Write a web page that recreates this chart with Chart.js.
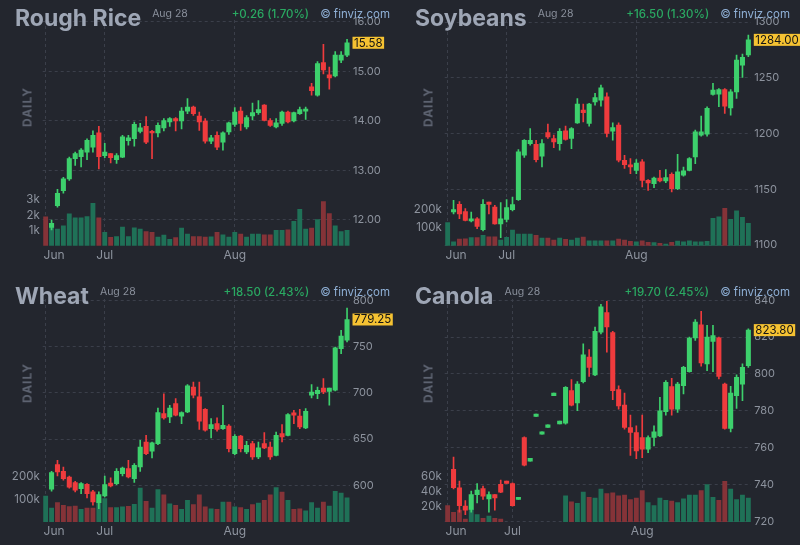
<!DOCTYPE html>
<html>
<head>
<meta charset="utf-8">
<title>Grain futures - daily</title>
<script src="https://cdn.jsdelivr.net/npm/chart.js@4.4.1/dist/chart.umd.min.js"></script>
<style>
  html, body { margin: 0; padding: 0; background: #23262e; }
  #board { position: relative; width: 800px; height: 545px; overflow: hidden; background: #23262e; font-family: Inter, "Noto Sans", sans-serif; }
  .panel { position: absolute; width: 400px; overflow: hidden; }
  .panel canvas { position: absolute; left: 0; top: 0; }
  .head { position: absolute; left: 15px; display: flex; align-items: flex-start; white-space: nowrap; }
  .name { font-size: 23px; font-weight: 700; line-height: 24px; color: #9ea6b5; }
  .date { font-size: 10.5px; line-height: 12px; margin: 2px 0 0 11px; color: #8a909c; }
  .right { position: absolute; right: 10px; display: flex; gap: 11px; font-size: 11.5px; line-height: 14px; white-space: nowrap; }
  .chg { color: #2aa962; font-weight: 500; }
  .src { color: #8fb0d6; }
  .daily { position: absolute; font-size: 12px; font-weight: 700; letter-spacing: 1px; color: #5c6270; transform: translate(-50%, -50%) rotate(-90deg); }
</style>
</head>
<body>
<div id="board"></div>
<script>
"use strict";

// ---- data (index 0 only has volume, no candle) ----
const sessions = Array.from({ length: 52 }, (_, i) => i + 1);
const monthNames = ["Jun", "Jul", "Aug"];
const dateLabel = "Aug 28";

// Rough Rice
const riceOpen  = [null, 11.85, 12.29, 12.59, 12.83, 13.24, 13.28, 13.37, 13.47, 13.76, 13.30, 13.34, 13.22, 13.27, 13.60, 13.64, 13.79, 13.89, 13.79, 13.76, 13.86, 13.98, 14.05, 14.00, 14.20, 14.28, 14.10, 14.00, 13.59, 13.71, 13.57, 13.78, 13.93, 14.20, 13.88, 14.10, 14.17, 14.32, 14.01, 13.88, 13.95, 14.18, 14.00, 14.15, 14.20, 14.69, 14.52, 15.18, 14.93, 14.91, 15.23, 15.33];
const riceHigh  = [null, 12.00, 12.62, 12.86, 13.27, 13.37, 13.44, 13.64, 13.80, 13.89, 13.55, 13.34, 13.34, 13.71, 13.71, 13.98, 13.95, 14.09, 13.81, 13.96, 14.05, 14.07, 14.07, 14.27, 14.45, 14.30, 14.18, 14.05, 13.71, 13.78, 13.78, 13.98, 14.27, 14.28, 14.11, 14.36, 14.41, 14.33, 14.05, 14.05, 14.20, 14.20, 14.18, 14.28, 14.28, 14.76, 15.20, 15.55, 15.09, 15.40, 15.40, 15.65];
const riceLow   = [null, 11.80, 12.26, 12.54, 12.80, 13.10, 13.07, 13.22, 13.37, 13.03, 13.26, 13.15, 13.14, 13.26, 13.51, 13.49, 13.76, 13.54, 13.24, 13.68, 13.80, 13.89, 13.80, 13.84, 14.15, 14.11, 13.81, 13.55, 13.54, 13.42, 13.41, 13.73, 13.89, 13.81, 13.84, 14.02, 14.13, 14.00, 13.89, 13.86, 13.91, 13.96, 13.98, 14.13, 14.03, 14.52, 14.50, 14.95, 14.64, 14.89, 15.18, 15.30];
const riceClose = [null, 11.93, 12.54, 12.83, 13.24, 13.34, 13.41, 13.61, 13.71, 13.28, 13.37, 13.26, 13.30, 13.68, 13.66, 13.93, 13.86, 13.57, 13.76, 13.91, 14.01, 14.05, 14.00, 14.20, 14.28, 14.15, 13.98, 13.59, 13.66, 13.47, 13.76, 13.96, 14.18, 13.95, 14.07, 14.17, 14.23, 14.01, 13.91, 13.96, 14.18, 13.98, 14.17, 14.23, 14.24, 14.61, 15.16, 15.03, 14.87, 15.33, 15.33, 15.58];
const riceVolume = [1.89, 1.27, 1.09, 1.31, 2.09, 1.82, 1.82, 1.91, 2.78, 1.82, 0.87, 0.55, 0.6, 1.22, 0.6, 1.18, 1.09, 0.93, 0.87, 0.56, 0.69, 0.42, 0.53, 1.16, 0.76, 0.6, 0.6, 0.56, 0.58, 0.87, 0.71, 0.56, 0.87, 0.76, 0.56, 0.76, 0.76, 0.71, 0.71, 1.0, 1.0, 1.04, 1.6, 2.38, 1.09, 1.16, 1.71, 2.89, 2.11, 1.31, 0.93, 1.0];

// Soybeans
const soyOpen  = [null, 1129.6, 1136.5, 1130, 1121.6, 1123.6, 1113.8, 1138.6, 1134, 1119, 1123, 1131.7, 1140.7, 1180.5, 1191, 1190.4, 1179.6, 1200.9, 1195.5, 1191, 1202.4, 1195.5, 1209.6, 1221, 1209, 1228.4, 1230, 1233, 1202, 1207.5, 1176, 1172, 1167, 1174.5, 1158, 1155, 1160, 1157.5, 1163.5, 1150.6, 1162.6, 1167, 1179, 1198.5, 1199.4, 1235, 1235.3, 1239.5, 1223, 1237.4, 1261.4, 1270.4];
const soyHigh  = [null, 1140, 1139, 1132.6, 1129.6, 1124.6, 1140.7, 1138.6, 1135.6, 1138, 1140.7, 1143, 1185.6, 1194.6, 1204.5, 1194, 1194.6, 1208.4, 1198.5, 1204.5, 1206.6, 1205.4, 1231.4, 1226.3, 1227, 1236, 1243.4, 1236.5, 1209.6, 1209.6, 1180.5, 1177.5, 1176.6, 1176.6, 1158.6, 1161, 1167, 1167.7, 1164.7, 1181.4, 1170, 1178.5, 1203, 1215.6, 1224, 1245, 1240.4, 1240.4, 1239.5, 1270.4, 1271.3, 1288.3];
const soyLow   = [null, 1128, 1123.6, 1121.6, 1120.7, 1114.7, 1112.6, 1128, 1118.6, 1106.6, 1120.7, 1130.5, 1140, 1178.5, 1189.5, 1174.6, 1170, 1195.5, 1187.4, 1185, 1194, 1186.5, 1209, 1210.5, 1206.6, 1225.4, 1224.6, 1197, 1194, 1174.5, 1168.6, 1164, 1164, 1152, 1149, 1151.5, 1156.5, 1156, 1147.6, 1149.7, 1161.7, 1166.5, 1173, 1197.6, 1197.6, 1234.5, 1224, 1218, 1216.5, 1231.4, 1250.3, 1268.9];
const soyClose = [null, 1131.7, 1128, 1122, 1123.6, 1116.8, 1136.5, 1136.5, 1119, 1123.6, 1133.5, 1136.2, 1183.5, 1194, 1194, 1176.6, 1191, 1197, 1192.5, 1202, 1194.6, 1204.5, 1226.3, 1218.6, 1226.3, 1232.3, 1241, 1200, 1205.4, 1176, 1172, 1170, 1173.6, 1158, 1155.6, 1160, 1157.5, 1160.5, 1150.6, 1165.6, 1166.5, 1177.5, 1201.5, 1201.5, 1222.5, 1239, 1239.5, 1224.6, 1237.4, 1265.9, 1268.3, 1284];
const soyVolume = [129, 22, 37, 39, 45, 45, 58, 50, 50, 32, 47, 88, 65, 65, 65, 58, 43, 43, 32, 43, 36, 32, 43, 48, 28, 28, 28, 28, 28, 37, 32, 24, 22, 28, 19, 17, 13, 9, 19, 26, 22, 28, 22, 22, 24, 153, 162, 209, 148, 196, 159, 125];

// Wheat
const wheatOpen  = [null, 595.7, 622.3, 615, 609, 603, 596.4, 601, 593, 581.3, 588.5, 602.5, 601.8, 612.6, 618, 607.2, 619.8, 646.8, 636.8, 645, 677.5, 673.9, 688.3, 674.6, 679.3, 706.3, 695.5, 682.2, 661.3, 666.7, 661.3, 664.1, 634.2, 653.3, 636, 645, 630.6, 645, 641.4, 632.4, 655.9, 654, 678.2, 674.9, 662, 697.3, 699, 705.2, 701.6, 702.7, 747.7, 756.8];
const wheatHigh  = [null, 615, 627, 619.8, 610, 604.3, 603, 601.8, 594.6, 592.8, 610, 608, 618, 619.8, 627, 623.4, 648.6, 654, 646.8, 683.6, 699, 686.5, 693.7, 679.3, 708.8, 711.7, 711.7, 683, 672.1, 672.8, 686.5, 665.6, 654.8, 654, 647.6, 647.6, 646.8, 657, 646.8, 657.6, 665.6, 677.5, 681, 682.2, 682.9, 708.8, 706.3, 715.3, 705.2, 749.5, 767.6, 791.7];
const wheatLow   = [null, 593.5, 610, 605.4, 597, 592.8, 591, 586.3, 578.4, 574.8, 587.4, 598.2, 600.7, 610, 608, 603, 615, 633, 629.5, 644, 671.4, 667.7, 675, 666.7, 678.6, 694.4, 660.5, 658.4, 651.2, 658.4, 660.5, 636, 633.2, 636, 634.2, 628, 628.8, 639.6, 628, 631.7, 646.8, 653.3, 666.7, 661.3, 661.3, 694.4, 693.7, 699, 686.5, 702, 742.3, 755];
const wheatClose = [null, 613.7, 614.4, 607.2, 598, 594.6, 601.8, 591, 582, 590, 600.7, 599.3, 615, 618.7, 609, 621.6, 641.4, 634.2, 645.8, 678.6, 672.8, 683.6, 675.7, 678.6, 707.4, 697.3, 669.2, 659.5, 665.6, 660.5, 664.9, 639.6, 653, 639.6, 643.2, 630.6, 640.4, 640.4, 630.6, 654, 652.3, 676.4, 675.7, 663, 680, 700.9, 702.7, 700.9, 705.2, 748.5, 761.4, 779.25];
const wheatVolume = [115, 62, 86, 74, 68, 71, 56, 62, 62, 104, 104, 64, 64, 67, 70, 79, 151, 92, 62, 144, 121, 81, 74, 56, 96, 77, 121, 67, 59, 56, 89, 89, 67, 64, 56, 77, 84, 96, 121, 153, 133, 96, 56, 59, 50, 86, 62, 89, 71, 136, 129, 107];

// Canola
const canolaOpen  = [null, 748.2, 738.2, 728.2, 726.4, 734.5, 737.8, 732.2, 734.5, 740, 741.8, 740.5, 731.8, 765.5, 752.7, 776.9, 767.3, 770.9, 788.2, 772.9, 773.3, 790.9, 784.2, 795.8, 809.1, 799.5, 822.7, 833.3, 822.4, 791.5, 783.1, 770.9, 768.2, 765.5, 759.1, 765.5, 766.4, 779.5, 793.1, 780.9, 793.6, 801.3, 819.5, 826.7, 805.5, 817.6, 819.6, 794.5, 770.4, 788.2, 794.5, 804.5];
const canolaHigh  = [null, 754.9, 741.8, 731.3, 736.4, 740.4, 739.1, 736, 734.5, 742.4, 741.8, 740.9, 733, 765.8, 754.2, 778.2, 768.5, 772.4, 789.6, 774.4, 793.1, 796.9, 795.8, 816.4, 813.3, 825.5, 837.8, 839.5, 823.1, 793.6, 789.6, 777.6, 771.8, 777.6, 766.4, 771.8, 787.3, 796.4, 797.6, 795.5, 804.2, 820, 829.5, 834, 826.4, 826.4, 820, 795.1, 793.3, 799.5, 805.5, 824.5];
const canolaLow   = [null, 737.6, 724.9, 723.6, 724.9, 730, 731.8, 724.9, 726, 735.5, 740.5, 728.2, 731.8, 750, 752.7, 776.9, 767.3, 770.9, 788.2, 772.9, 772.7, 782.7, 780, 795.1, 798.7, 799.1, 821.8, 811.8, 786, 780.9, 770, 755.8, 754, 754.5, 757.3, 760.9, 766, 777.6, 777.6, 779.1, 789.1, 800.9, 818.2, 804.2, 801.8, 801.3, 797.3, 770, 768.5, 781.3, 785.5, 803.6];
const canolaClose = [null, 738.2, 728.5, 726, 734.5, 736.9, 733.6, 734.5, 732.7, 735.8, 740.5, 728.5, 733, 750.4, 754.2, 778.2, 768.5, 772.4, 789.6, 774.4, 792.7, 783.1, 794.5, 810.4, 803.6, 823.1, 836.4, 825.5, 790.9, 782.7, 770.9, 768.2, 758.2, 759.1, 765.5, 768.5, 780, 795.5, 780.9, 794.5, 803.6, 819.5, 828.2, 806, 820, 820.9, 798.7, 770.4, 789.6, 798.2, 803.6, 823.8];
const canolaVolume = [22, 13, 16, 4, 17, 10, 5, 8, 5, 4, null, null, null, null, null, null, null, null, null, null, 35, 27, 25, 40, 33, 32, 44, 38, 39, 35, 36, 30, 32, 42, 26, 22, 32, 29, 28, 26, 31, 36, 36, 42, 50, 33, 29, 54, 44, 30, 36, 32];

// tick labels
const riceTicks = [12, 13, 14, 15, 16];
const soyTicks = [1100, 1150, 1200, 1250, 1300];
const wheatTicks = [600, 650, 700, 750, 800];
const canolaTicks = [720, 740, 760, 780, 800, 820, 840];
const riceVolTicks = [1, 2, 3];
const soyVolTicks = [100, 200];
const wheatVolTicks = [100, 200];
const canolaVolTicks = [20, 40, 60];

// ---- look ----
const candleUp = "#3dd06c", candleDown = "#ef3b3d";
const volUp = "#1f7157", volDown = "#853338";
const gridColor = "#3b3f4a", tickColor = "#8d939e";

const panels = [
  { name: "Rough Rice", change: "+0.26 (1.70%)", open: riceOpen, high: riceHigh, low: riceLow, close: riceClose, volume: riceVolume, firstUp: false,
    priceTicks: riceTicks, volTicks: riceVolTicks, decimals: 2, months: [0, 10, 32],
    x: 0, y: 0, h: 272, area: { left: 42.7, right: 350, top: 20, bottom: 245.7 }, min: 11.48, max: 16.04, vMax: 14.8, head: 6, daily: [27, 107] },
  { name: "Soybeans", change: "+16.50 (1.30%)", open: soyOpen, high: soyHigh, low: soyLow, close: soyClose, volume: soyVolume, firstUp: true,
    priceTicks: soyTicks, volTicks: soyVolTicks, decimals: 0, months: [0, 10, 32],
    x: 400, y: 0, h: 272, area: { left: 44.7, right: 351.3, top: 20, bottom: 245.7 }, min: 1099.4, max: 1301.8, vMax: 1266, head: 6, daily: [28, 107] },
  { name: "Wheat", change: "+18.50 (2.43%)", open: wheatOpen, high: wheatHigh, low: wheatLow, close: wheatClose, volume: wheatVolume, firstUp: true,
    priceTicks: wheatTicks, volTicks: wheatVolTicks, decimals: 0, months: [0, 10, 32],
    x: 0, y: 272, h: 273, area: { left: 42.7, right: 350, top: 27, bottom: 250 }, min: 560.3, max: 801.4, vMax: 991, head: 12, daily: [27, 111] },
  { name: "Canola", change: "+19.70 (2.45%)", open: canolaOpen, high: canolaHigh, low: canolaLow, close: canolaClose, volume: canolaVolume, firstUp: false,
    priceTicks: canolaTicks, volTicks: canolaVolTicks, decimals: 0, months: [0, 11, 33],
    x: 400, y: 272, h: 273, area: { left: 44.7, right: 351.3, top: 27, bottom: 250 }, min: 719.6, max: 840.7, vMax: 297, head: 12, daily: [28, 111] }
];

// yellow box with the last close on the price axis
const lastPriceTag = {
  id: "lastPriceTag",
  afterDraw(chart, args, opts) {
    const ctx = chart.ctx;
    const y = chart.scales.y.getPixelForValue(opts.value);
    const x = chart.chartArea.right + 2.5;
    ctx.save();
    ctx.font = "11.5px Inter";
    const w = ctx.measureText(opts.text).width + 3;
    ctx.fillStyle = "#f5c232";
    ctx.fillRect(x, y - 6, w, 12);
    ctx.fillStyle = "#141414";
    ctx.textBaseline = "middle";
    ctx.fillText(opts.text, x + 1.5, y + 0.5);
    ctx.restore();
  }
};

function buildConfig(p) {
  const up = p.open.map((o, i) => o == null ? p.firstUp : p.close[i] >= o);
  const lastClose = p.close[p.close.length - 1];
  return {
    type: "bar",
    data: {
      labels: sessions,
      datasets: [
        {
          label: "body",
          data: p.open.map((o, i) => o == null ? null : [o, p.close[i]]),
          backgroundColor: up.map(u => u ? candleUp : candleDown),
          barThickness: 4.4, minBarLength: 1.2, grouped: false, yAxisID: "y", order: 0
        },
        {
          label: "wick",
          data: p.low.map((l, i) => l == null ? null : [l, p.high[i]]),
          backgroundColor: up.map(u => u ? candleUp : candleDown),
          barThickness: 1, grouped: false, yAxisID: "y", order: 1
        },
        {
          label: "volume",
          data: p.volume,
          backgroundColor: up.map(u => u ? volUp : volDown),
          barThickness: 4.2, grouped: false, yAxisID: "v", order: 2
        }
      ]
    },
    options: {
      responsive: false,
      animation: false,
      events: [],
      layout: { padding: { top: p.area.top, left: 0, right: 0, bottom: 0 } },
      plugins: {
        legend: { display: false },
        tooltip: { enabled: false },
        lastPriceTag: { value: lastClose, text: lastClose.toFixed(2) }
      },
      scales: {
        x: {
          type: "category",
          offset: true,
          grid: { offset: false, color: gridColor, drawTicks: false },
          border: { display: false, dash: [3, 3] },
          ticks: {
            autoSkip: false, maxRotation: 0, padding: 2, color: tickColor,
            font: { family: "Inter", size: 12 },
            callback: v => {
              const k = p.months.indexOf(v);
              return k === 0 ? "     " + monthNames[k] : monthNames[k];
            }
          },
          afterBuildTicks: s => { s.ticks = p.months.map(v => ({ value: v })); },
          afterFit: s => { s.height = p.h - p.area.bottom; }
        },
        y: {
          position: "right",
          min: p.min, max: p.max,
          grid: { color: gridColor, drawTicks: false },
          border: { display: false, dash: [3, 3] },
          ticks: { padding: 3, color: tickColor, font: { family: "Inter", size: 11 }, callback: v => v.toFixed(p.decimals) },
          afterBuildTicks: s => { s.ticks = p.priceTicks.map(v => ({ value: v })); },
          afterFit: s => { s.width = 400 - p.area.right; }
        },
        v: {
          position: "left",
          min: 0, max: p.vMax,
          grid: { display: false, drawTicks: false },
          border: { display: false },
          ticks: { padding: 3, color: tickColor, font: { family: "Inter", size: 11.5 }, callback: v => v + "k" },
          afterBuildTicks: s => { s.ticks = p.volTicks.map(v => ({ value: v })); },
          afterFit: s => { s.width = p.area.left; }
        }
      }
    },
    plugins: [lastPriceTag]
  };
}

const board = document.getElementById("board");
panels.forEach(p => {
  const box = document.createElement("div");
  box.className = "panel";
  box.style.left = p.x + "px";
  box.style.top = p.y + "px";
  box.style.height = p.h + "px";

  const cv = document.createElement("canvas");
  cv.width = 400;
  cv.height = p.h;
  box.appendChild(cv);

  const head = document.createElement("div");
  head.className = "head";
  head.style.top = p.head + "px";
  head.innerHTML = '<span class="name">' + p.name + '</span><span class="date">' + dateLabel + "</span>";
  box.appendChild(head);

  const right = document.createElement("div");
  right.className = "right";
  right.style.top = (p.head + 1) + "px";
  right.innerHTML = '<span class="chg">' + p.change + '</span><span class="src">© finviz.com</span>';
  box.appendChild(right);

  const daily = document.createElement("div");
  daily.className = "daily";
  daily.style.left = p.daily[0] + "px";
  daily.style.top = p.daily[1] + "px";
  daily.textContent = "DAILY";
  box.appendChild(daily);

  board.appendChild(box);
  new Chart(cv.getContext("2d"), buildConfig(p));
});
</script>
</body>
</html>
